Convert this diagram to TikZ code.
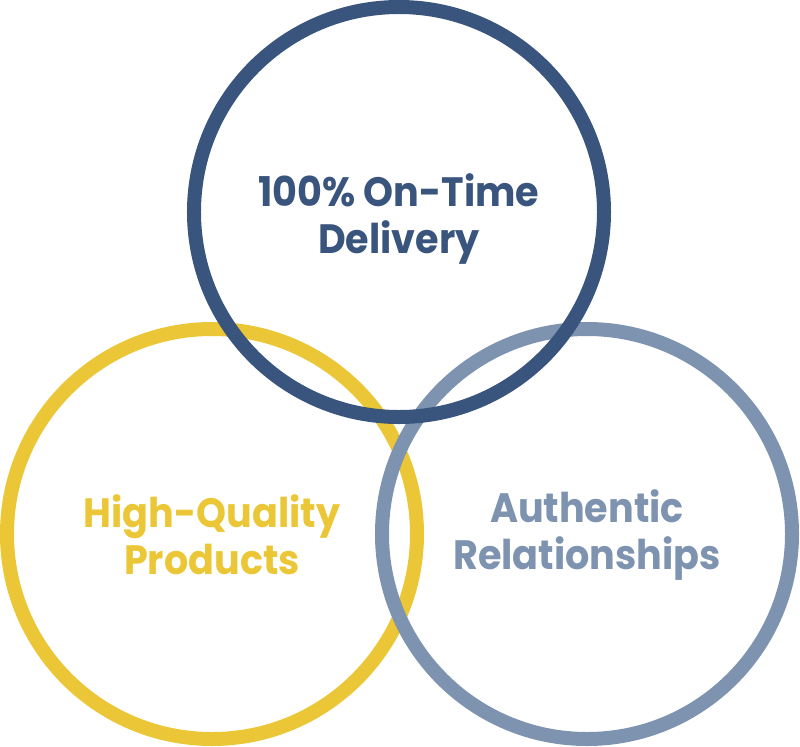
\documentclass[tikz,border=0pt]{standalone}
\usepackage{fontspec}
\setmainfont{Poppins}[BoldFeatures={FakeStretch=0.93}]
\definecolor{deliveryblue}{HTML}{3A557D}
\definecolor{productyellow}{HTML}{EBC737}
\definecolor{relationgray}{HTML}{7D93AF}
\begin{document}
\begin{tikzpicture}[x=0.03cm,y=-0.03cm,
	ring/.style={circle,draw=#1,line width=0.42cm,minimum size=12.3cm,inner sep=0pt},
	tag/.style={text=#1,align=center,inner sep=0pt,font=\fontsize{35}{40}\selectfont\bfseries}]
	   \useasboundingbox (0,0) rectangle (800,747);
	   \node [ring=productyellow] (products) at (212,534) {};
	   \node [ring=relationgray] (relations) at (587,534) {};
	   \node [ring=deliveryblue] (delivery) at (399,212) {};
	   \node [tag=productyellow] (productstext) at ([yshift=-0.02cm]products.center) {High-Quality\\Products};
	   \node [tag=relationgray] (relationstext) at ([yshift=-0.02cm]relations.center) {Authentic\\Relationships};
	   \node [tag=deliveryblue] (deliverytext) at ([yshift=-0.2cm]delivery.center) {100\% On-Time\\Delivery};
	\end{tikzpicture}
\end{document}
